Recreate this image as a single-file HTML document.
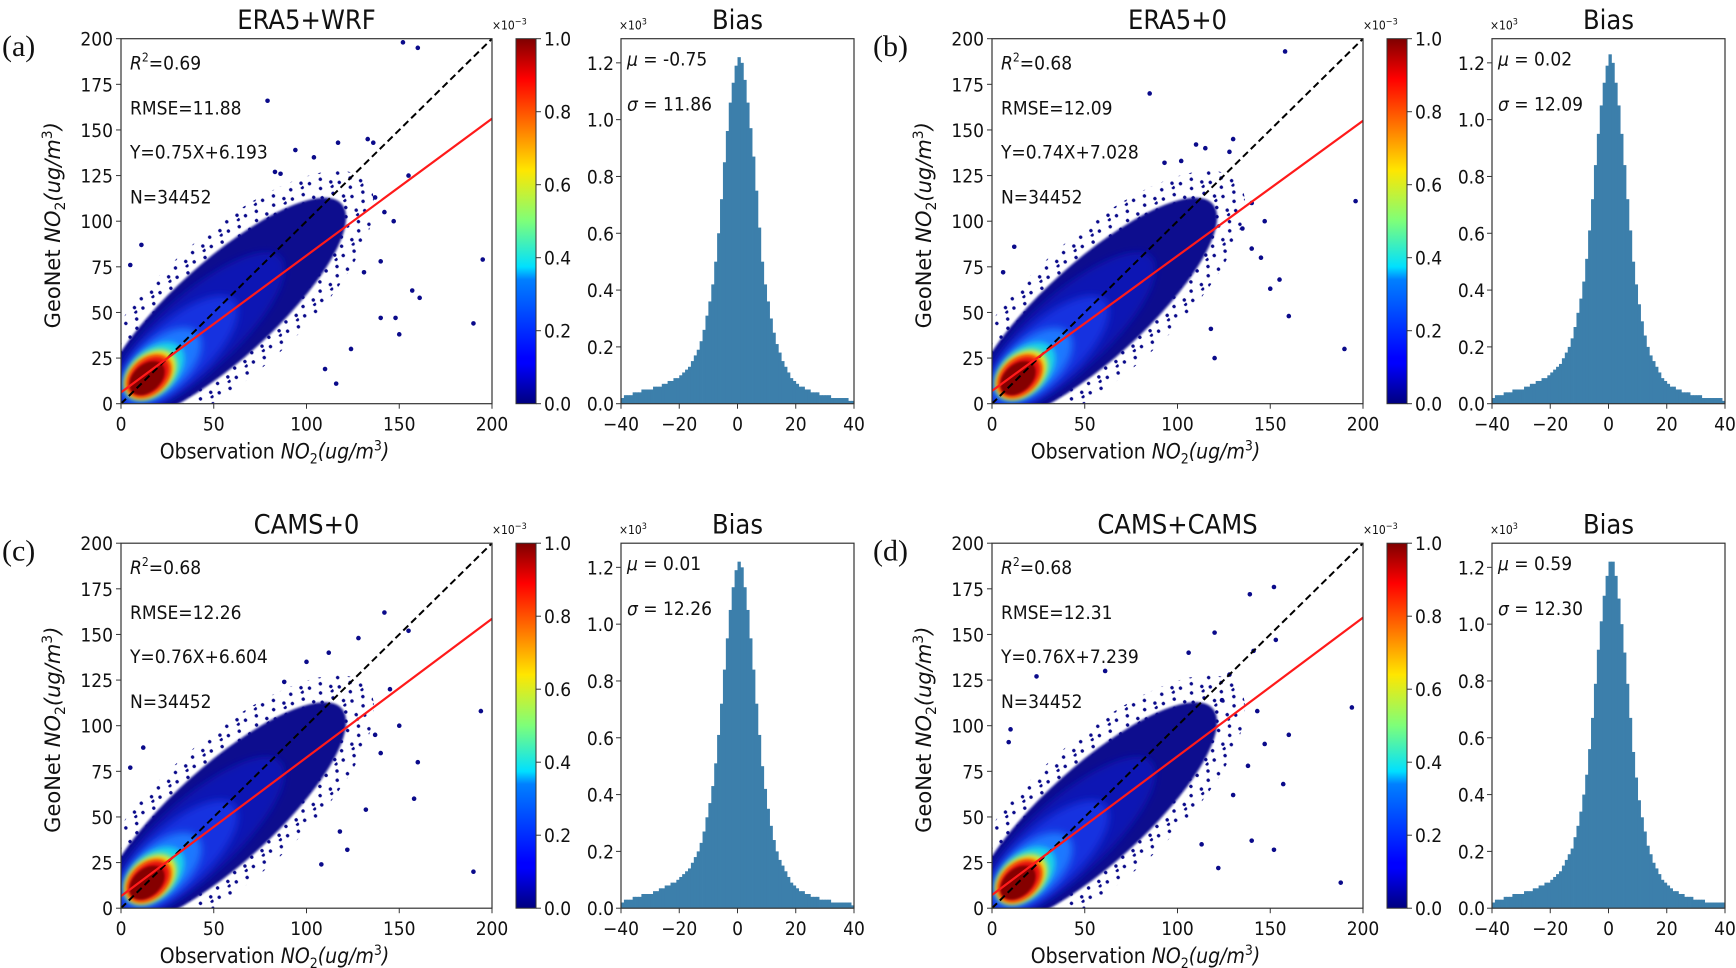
<!DOCTYPE html>
<html><head><meta charset="utf-8">
<style>
body{margin:0;background:#fff;}
svg{display:block;}
text{font-family:"DejaVu Sans Condensed","Liberation Sans Narrow","Liberation Sans",sans-serif;fill:#111;}
.serif{font-family:"Liberation Serif",serif;}
</style></head>
<body>
<svg id="fig" width="1736" height="968" viewBox="0 0 1736 968" xmlns="http://www.w3.org/2000/svg">
<defs>
<linearGradient id="jet" x1="0" y1="1" x2="0" y2="0">
<stop offset="0" stop-color="#00007f"/><stop offset="0.11" stop-color="#0000ff"/><stop offset="0.125" stop-color="#0000ff"/>
<stop offset="0.34" stop-color="#0080ff"/><stop offset="0.375" stop-color="#00e0ff"/><stop offset="0.5" stop-color="#7dff7a"/>
<stop offset="0.64" stop-color="#ffe600"/><stop offset="0.75" stop-color="#ff8000"/><stop offset="0.89" stop-color="#ff0000"/>
<stop offset="1" stop-color="#7f0000"/></linearGradient>
<pattern id="dots" width="23" height="19" patternUnits="userSpaceOnUse">
<circle cx="2" cy="3" r="1.7" fill="#0a0a8a"/><circle cx="13" cy="7" r="1.7" fill="#0a0a8a"/>
<circle cx="7" cy="14" r="1.7" fill="#0a0a8a"/><circle cx="19" cy="16" r="1.7" fill="#0a0a8a"/>
<circle cx="17" cy="1" r="1.7" fill="#0a0a8a"/>
</pattern>
<filter id="blur4" x="-50%" y="-50%" width="200%" height="200%"><feGaussianBlur stdDeviation="4"/></filter>
<filter id="blur3" x="-50%" y="-50%" width="200%" height="200%"><feGaussianBlur stdDeviation="3"/></filter>
<filter id="blur2" x="-50%" y="-50%" width="200%" height="200%"><feGaussianBlur stdDeviation="2"/></filter>
<filter id="blur1" x="-50%" y="-50%" width="200%" height="200%"><feGaussianBlur stdDeviation="1"/></filter>
</defs>
</svg>
<script>
// ---- data ----
const panelIds = ['a','b','c','d'];
const titles = ['ERA5+WRF','ERA5+0','CAMS+0','CAMS+CAMS'];
const r2Values = ['0.69','0.68','0.68','0.68'];
const rmseValues = ['11.88','12.09','12.26','12.31'];
const slopes = [0.75,0.74,0.76,0.76];
const intercepts = [6.193,7.028,6.604,7.239];
const nValues = ['34452','34452','34452','34452'];
const muValues = ['-0.75','0.02','0.01','0.59'];
const sigmaValues = ['11.86','12.09','12.26','12.30'];
const scatterTicks = [0,25,50,75,100,125,150,175,200];
const scatterXTicks = [0,50,100,150,200];
const cbarTicks = ['0.0','0.2','0.4','0.6','0.8','1.0'];
const histXTicks = [-40,-20,0,20,40];
const histYTicks = ['0.0','0.2','0.4','0.6','0.8','1.0','1.2'];
// histogram counts (x10^3), 1-unit bins from -40 to 39
const histA = [.02,.03,.03,.03,.04,.04,.04,.05,.05,.05, .05,.06,.06,.06,.07,.07,.08,.08,.09,.09,
 .10,.11,.12,.13,.15,.17,.19,.22,.26,.31, .36,.42,.50,.60,.72,.85,.96,1.06,1.13,1.19,
 1.22,1.20,1.14,1.06,.97,.87,.75,.62,.50,.42, .36,.30,.25,.21,.18,.15,.13,.11,.09,.08,
 .07,.06,.06,.05,.05,.04,.04,.04,.03,.03, .03,.03,.02,.02,.02,.02,.02,.02,.01,.01];
const histB = [.02,.03,.03,.03,.04,.04,.04,.05,.05,.05, .05,.06,.06,.07,.07,.08,.08,.09,.09,.10,
 .11,.12,.13,.14,.16,.18,.20,.23,.27,.32, .37,.43,.51,.61,.72,.84,.95,1.05,1.13,1.19,
 1.23,1.20,1.13,1.05,.95,.84,.72,.61,.50,.42, .35,.29,.24,.20,.17,.15,.13,.11,.09,.08,
 .07,.06,.06,.05,.05,.04,.04,.04,.03,.03, .03,.03,.02,.02,.02,.02,.02,.02,.02,.01];
const histC = [.02,.03,.03,.03,.04,.04,.04,.05,.05,.05, .05,.06,.06,.07,.07,.08,.08,.09,.09,.10,
 .11,.12,.13,.14,.16,.18,.20,.23,.27,.32, .37,.43,.51,.61,.72,.84,.95,1.05,1.13,1.19,
 1.22,1.20,1.13,1.05,.95,.84,.72,.61,.50,.42, .35,.29,.24,.20,.17,.15,.13,.11,.09,.08,
 .07,.06,.06,.05,.05,.04,.04,.04,.03,.03, .03,.03,.02,.02,.02,.02,.02,.02,.02,.01];
const histD = [.02,.03,.03,.03,.04,.04,.04,.05,.05,.05, .05,.06,.06,.06,.07,.07,.08,.08,.09,.09,
 .10,.11,.12,.13,.15,.17,.19,.21,.25,.29, .34,.40,.47,.56,.67,.79,.91,1.01,1.10,1.17,
 1.22,1.22,1.17,1.09,1.00,.90,.79,.67,.55,.46, .38,.32,.27,.22,.19,.16,.14,.12,.10,.09,
 .08,.07,.06,.06,.05,.05,.04,.04,.04,.03, .03,.03,.03,.02,.02,.02,.02,.02,.02,.02];
const histCounts = [histA,histB,histC,histD];
// density layers: [cx, cy, rx, ry (data units), angle deg, color, blur]
const densityLayers = [
 [58,54,100,38,42,'dots',0],
 [55,51,86,27,42,'#08088e',1],
 [40,38,62,21,42,'#0c14b4',4],
 [30,28,42,17,42,'#1530e0',4],
 [22,21,26,14,42,'#1f78ff',4],
 [18,18,19,12,42,'#16d4ea',3],
 [16,16,16,11,42,'#e8ee2a',3],
 [15,15,14.5,10,42,'#ff8a00',2],
 [15,15,13,9,42,'#e41010',2],
 [14,14,11,7.5,42,'#850000',1]
];
// outlier points [x,y] per panel
const outliersA = [[152,198],[160,195],[79,166],[190,44],[195,79],[150,38],[116,11],[140,78],[157,62],[161,58],[133,145],[136,143],[117,143],[94,139],[104,135],[142,105],[155,125],[147,100],[124,30],[110,19],[83,127],[86,126],[11,87],[5,76],[140,47],[148,47],[131,72],[137,113]];
const outliersB = [[158,193],[85,170],[190,30],[196,111],[160,48],[150,63],[140,85],[130,145],[128,138],[110,142],[102,133],[140,110],[155,68],[147,100],[120,25],[115,140],[93,132],[12,86],[6,72],[135,96],[118,41],[145,80]];
const outliersC = [[142,162],[155,152],[194,108],[190,20],[160,80],[158,60],[140,85],[128,148],[112,140],[100,135],[145,120],[150,100],[122,32],[108,24],[88,124],[12,88],[5,77],[137,95],[132,54],[118,42]];
const outliersD = [[139,172],[152,176],[194,110],[188,14],[160,95],[157,68],[152,32],[120,151],[141,141],[153,147],[128,128],[106,140],[124,114],[143,108],[147,90],[138,78],[122,22],[113,35],[61,130],[24,127],[10,98],[9,91],[140,37],[130,62]];
const outliers = [outliersA,outliersB,outliersC,outliersD];

// ---- drawing ----
const NS='http://www.w3.org/2000/svg';
const svg=document.getElementById('fig');
function mk(tag,attrs,parent){const e=document.createElementNS(NS,tag);for(const k in attrs)e.setAttribute(k,attrs[k]);(parent||svg).appendChild(e);return e;}
function txt(s,attrs,parent){const e=mk('text',attrs,parent);e.textContent=s;return e;}

const colOff=[0,871], rowOff=[0,504.5];
const SC={l:121,t:38.7,w:371,h:365};
const CB={l:516,w:20};
const HI={l:621,w:233};
const HYMAX=1.285;

panelIds.forEach((pid,i)=>{
 const ox=colOff[i%2], oy=rowOff[Math.floor(i/2)];
 const g=mk('g',{transform:`translate(${ox},${oy})`});
 
 
 const sx=v=>SC.l+v/200*SC.w, sy=v=>SC.t+SC.h-v/200*SC.h;

 const lab=txt('('+pid+')',{x:2,y:56,'font-size':30,'class':'serif'},g);
 
 

 const ti=txt(titles[i],{x:SC.l+SC.w/2,y:29,'font-size':27,'text-anchor':'middle'},g);
 
 

 const cp=mk('clipPath',{id:'clip'+pid},g);
 mk('rect',{x:SC.l,y:SC.t,width:SC.w,height:SC.h},cp);
 const plot=mk('g',{'clip-path':`url(#clip${pid})`},g);
 
 
 densityLayers.forEach(L=>{
  const a={cx:sx(L[0]),cy:sy(L[1]),rx:L[2]/200*SC.w,ry:L[3]/200*SC.h,
   fill:L[5]==='dots'?'url(#dots)':L[5],
   transform:`rotate(${-L[4]} ${sx(L[0])} ${sy(L[1])})`};
  if(L[6]>0)a.filter=`url(#blur${L[6]})`;
  const e=mk('ellipse',a,plot);
  
  
 });
 outliers[i].forEach(p=>{
  const c=mk('circle',{cx:sx(p[0]),cy:sy(p[1]),r:2.3,fill:'#0a0a8a'},plot);
  
  
 });
 const d=mk('line',{x1:sx(0),y1:sy(0),x2:sx(200),y2:sy(200),stroke:'#000','stroke-width':2,'stroke-dasharray':'7,4'},plot);
 
 
 const f=mk('line',{x1:sx(0),y1:sy(intercepts[i]),x2:sx(200),y2:sy(200*slopes[i]+intercepts[i]),stroke:'#ff1a1a','stroke-width':2.2},plot);
 
 

 const fr=mk('rect',{x:SC.l,y:SC.t,width:SC.w,height:SC.h,fill:'none',stroke:'#333','stroke-width':1.2},g);
 
 
 scatterTicks.forEach(v=>{
  mk('line',{x1:SC.l-5,x2:SC.l,y1:sy(v),y2:sy(v),stroke:'#333'},g);
  const t=txt(v,{x:SC.l-8,y:sy(v)+7,'font-size':19,'text-anchor':'end'},g);
  
  
 });
 scatterXTicks.forEach(v=>{
  mk('line',{x1:sx(v),x2:sx(v),y1:SC.t+SC.h,y2:SC.t+SC.h+5,stroke:'#333'},g);
  const t=txt(v,{x:sx(v),y:SC.t+SC.h+27,'font-size':19,'text-anchor':'middle'},g);
  
  
 });
 const xl=mk('text',{x:SC.l+SC.w/2-32,y:SC.t+SC.h+55,'font-size':21,'text-anchor':'middle'},g);
 xl.innerHTML='Observation <tspan font-style="italic">NO</tspan><tspan font-size="14" dy="5">2</tspan><tspan dy="-5" font-style="italic">(ug/m</tspan><tspan font-size="14" dy="-8">3</tspan><tspan dy="8" font-style="italic">)</tspan>';
 
 
 const yl=mk('text',{x:0,y:0,'font-size':21,'text-anchor':'middle',transform:`translate(60,${SC.t+SC.h/2+4}) rotate(-90)`,style:'font-family:"DejaVu Sans",sans-serif'},g);
 yl.innerHTML='GeoNet <tspan font-style="italic">NO</tspan><tspan font-size="14" dy="5">2</tspan><tspan dy="-5" font-style="italic">(ug/m</tspan><tspan font-size="14" dy="-8">3</tspan><tspan dy="8" font-style="italic">)</tspan>';
 
 

 const tx=SC.l+9;
 const s1=mk('text',{x:tx,y:SC.t+31,'font-size':19},g);
 s1.innerHTML='<tspan font-style="italic">R</tspan><tspan font-size="12" dy="-8">2</tspan><tspan dy="8">='+r2Values[i]+'</tspan>';
 
 
 const s2=txt('RMSE='+rmseValues[i],{x:tx,y:SC.t+76,'font-size':19},g);
 
 
 const s3=txt('Y='+slopes[i].toFixed(2)+'X+'+intercepts[i].toFixed(3),{x:tx,y:SC.t+120,'font-size':19},g);
 
 
 const s4=txt('N='+nValues[i],{x:tx,y:SC.t+165,'font-size':19},g);
 
 

 const cb=mk('rect',{x:CB.l,y:SC.t,width:CB.w,height:SC.h,fill:'url(#jet)',stroke:'#333','stroke-width':1},g);
 
 
 cbarTicks.forEach((v,k)=>{
  const y=SC.t+SC.h-k/(cbarTicks.length-1)*SC.h;
  mk('line',{x1:CB.l+CB.w,x2:CB.l+CB.w+5,y1:y,y2:y,stroke:'#333'},g);
  const t=txt(v,{x:CB.l+CB.w+8,y:y+7,'font-size':19},g);
  
  
 });
 const ce=mk('text',{x:CB.l-24,y:SC.t-9,'font-size':12},g);
 ce.innerHTML='×10<tspan font-size="9" dy="-5">−3</tspan>';
 
 

 const hx=v=>HI.l+(v+40)/80*HI.w, hy=v=>SC.t+SC.h-v/HYMAX*SC.h;
 const ht=txt('Bias',{x:HI.l+HI.w/2,y:29,'font-size':27,'text-anchor':'middle'},g);
 
 
 const hb=mk('g',{},g);
 
 
 histCounts[i].forEach((c,k)=>{
  const x0=hx(-40+k), x1=hx(-39+k);
  const r=mk('rect',{x:x0,y:hy(c),width:x1-x0+0.4,height:hy(0)-hy(c),fill:'#3c7fab'},hb);
  
  
 });
 const hf=mk('rect',{x:HI.l,y:SC.t,width:HI.w,height:SC.h,fill:'none',stroke:'#333','stroke-width':1.2},g);
 
 
 histXTicks.forEach(v=>{
  mk('line',{x1:hx(v),x2:hx(v),y1:SC.t+SC.h,y2:SC.t+SC.h+5,stroke:'#333'},g);
  const t=txt(String(v).replace('-','−'),{x:hx(v),y:SC.t+SC.h+27,'font-size':19,'text-anchor':'middle'},g);
  
  
 });
 histYTicks.forEach(v=>{
  const y=hy(parseFloat(v));
  mk('line',{x1:HI.l-5,x2:HI.l,y1:y,y2:y,stroke:'#333'},g);
  const t=txt(v,{x:HI.l-7,y:y+7,'font-size':19,'text-anchor':'end'},g);
  
  
 });
 const he=mk('text',{x:HI.l-2,y:SC.t-9,'font-size':12},g);
 he.innerHTML='×10<tspan font-size="9" dy="-5">3</tspan>';
 
 
 const m=mk('text',{x:HI.l+6,y:SC.t+27,'font-size':19},g);
 m.innerHTML='<tspan font-style="italic">μ</tspan> = '+muValues[i];
 
 
 const sg=mk('text',{x:HI.l+6,y:SC.t+72,'font-size':19},g);
 sg.innerHTML='<tspan font-style="italic">σ</tspan> = '+sigmaValues[i];
 
 
});
</script>
</body></html>
